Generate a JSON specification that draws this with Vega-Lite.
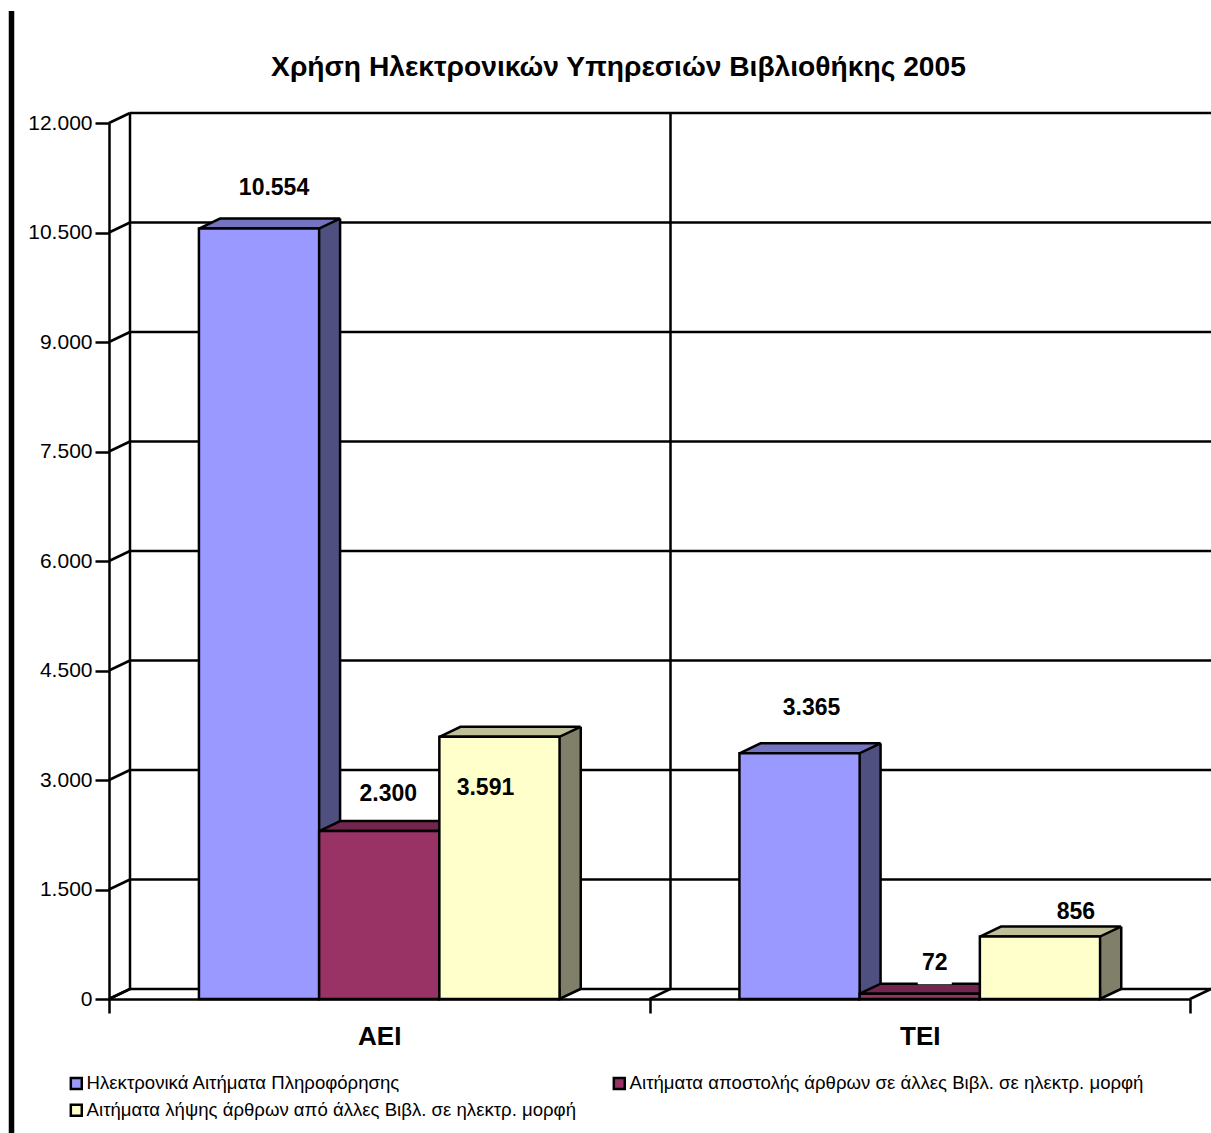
{
"$schema":"https://vega.github.io/schema/vega-lite/v6.json",
"width":1081,"height":876,
"autosize":{"type":"none"},
"padding":{"left":109,"top":123,"right":21,"bottom":134},
"background":"white",
"title":{"text":"Χρήση Ηλεκτρονικών Υπηρεσιών Βιβλιοθήκης 2005","font":"Liberation Sans","fontSize":28.2,"fontWeight":"bold","color":"black","anchor":"middle","dx":-31,"dy":96,"baseline":"middle","offset":0},
"config":{"view":{"stroke":null}},
"datasets":{
"bars":[
{"cat":"ΑΕΙ","series":"Ηλεκτρονικά Αιτήματα Πληροφόρησης","value":10554},
{"cat":"ΑΕΙ","series":"Αιτήματα αποστολής άρθρων σε άλλες Βιβλ. σε ηλεκτρ. μορφή","value":2300},
{"cat":"ΑΕΙ","series":"Αιτήματα λήψης άρθρων από άλλες Βιβλ. σε ηλεκτρ. μορφή","value":3591},
{"cat":"ΤΕΙ","series":"Ηλεκτρονικά Αιτήματα Πληροφόρησης","value":3365},
{"cat":"ΤΕΙ","series":"Αιτήματα αποστολής άρθρων σε άλλες Βιβλ. σε ηλεκτρ. μορφή","value":72},
{"cat":"ΤΕΙ","series":"Αιτήματα λήψης άρθρων από άλλες Βιβλ. σε ηλεκτρ. μορφή","value":856}
],
"ticks":[{"t":0},{"t":1500},{"t":3000},{"t":4500},{"t":6000},{"t":7500},{"t":9000},{"t":10500},{"t":12000}],
"base":[{"t":0}]
},
"data":{"name":"bars"},
"transform":[{"calculate":"replace(format(datum.value,','),',','.')","as":"label"}],
"encoding":{
"x":{"field":"cat","type":"nominal","title":null,"scale":{"domain":["ΑΕΙ","ΤΕΙ"],"paddingInner":0,"paddingOuter":0},
"axis":{"labelAngle":0,"tickBand":"extent","tickSize":14,"tickWidth":2.5,"tickColor":"black","domainColor":"black","domainWidth":2.5,"labelFont":"Liberation Sans","labelFontSize":26,"labelFontWeight":"bold","labelColor":"black","labelPadding":10,"grid":false}},
"xOffset":{"field":"series","scale":{"domain":["Ηλεκτρονικά Αιτήματα Πληροφόρησης","Αιτήματα αποστολής άρθρων σε άλλες Βιβλ. σε ηλεκτρ. μορφή","Αιτήματα λήψης άρθρων από άλλες Βιβλ. σε ηλεκτρ. μορφή"],"paddingInner":0,"paddingOuter":0.748}},
"y":{"field":"value","type":"quantitative","title":null,"scale":{"domain":[0,12000],"nice":false},
"axis":{"values":[0,1500,3000,4500,6000,7500,9000,10500,12000],"labelExpr":"replace(format(datum.value,','),',','.')","tickSize":14,"tickWidth":2.5,"tickColor":"black","domainColor":"black","domainWidth":2.5,"labelFont":"Liberation Sans","labelFontSize":21,"labelColor":"black","labelPadding":3,"grid":false}}
},
"resolve":{"scale":{"fill":"independent"}},
"layer":[
{"data":{"name":"ticks"},"mark":{"type":"rule","stroke":"black","strokeWidth":2.5,"xOffset":21,"x2Offset":21,"yOffset":-10},"encoding":{"x":{"value":0},"x2":{"value":1081},"xOffset":null,"y":{"field":"t","type":"quantitative"}}},
{"data":{"name":"ticks"},"mark":{"type":"point","shape":"M0 0L21 -10","size":4,"filled":false,"stroke":"black","strokeWidth":2.5,"opacity":1},"encoding":{"x":{"datum":"ΑΕΙ","bandPosition":0},"xOffset":null,"y":{"field":"t","type":"quantitative"}}},
{"data":{"name":"base"},"mark":{"type":"point","shape":"M0 0L21 -10L21 -886","size":4,"filled":false,"stroke":"black","strokeWidth":2.5,"opacity":1},"encoding":{"x":{"datum":"ΑΕΙ","bandPosition":0},"xOffset":null,"y":{"field":"t","type":"quantitative"}}},
{"data":{"name":"base"},"mark":{"type":"point","shape":"M0 0L21 -10L21 -886","size":4,"filled":false,"stroke":"black","strokeWidth":2.5,"opacity":1},"encoding":{"x":{"datum":"ΤΕΙ","bandPosition":0},"xOffset":null,"y":{"field":"t","type":"quantitative"}}},
{"data":{"name":"base"},"mark":{"type":"point","shape":"M0 0L21 -10","size":4,"filled":false,"stroke":"black","strokeWidth":2.5,"opacity":1},"encoding":{"x":{"datum":"ΤΕΙ","bandPosition":1},"xOffset":null,"y":{"field":"t","type":"quantitative"}}},
{"data":{"name":"base"},"mark":{"type":"point","shape":"M-97.5 -988L-97.5 134","size":4,"filled":false,"stroke":"black","strokeWidth":5.5,"opacity":1},"encoding":{"x":{"datum":"ΑΕΙ","bandPosition":0},"xOffset":null,"y":{"field":"t","type":"quantitative"}}},
{"transform":[{"filter":"datum.series==='Ηλεκτρονικά Αιτήματα Πληροφόρησης'"}],"mark":{"type":"rule","stroke":"#4F4F80","strokeWidth":21,"xOffset":-49.67,"yOffset":-10,"y2Offset":-10},"encoding":{"xOffset":null,"y2":{"datum":0}}},
{"transform":[{"filter":"datum.series==='Ηλεκτρονικά Αιτήματα Πληροφόρησης'"}],"mark":{"type":"rule","stroke":"black","strokeWidth":2.5,"xOffset":-39.17,"yOffset":-10,"y2Offset":-10},"encoding":{"xOffset":null,"y2":{"datum":0}}},
{"transform":[{"filter":"datum.series==='Αιτήματα αποστολής άρθρων σε άλλες Βιβλ. σε ηλεκτρ. μορφή'"}],"mark":{"type":"rule","stroke":"#4D1A33","strokeWidth":21,"xOffset":70.67,"yOffset":-10,"y2Offset":-10},"encoding":{"xOffset":null,"y2":{"datum":0}}},
{"transform":[{"filter":"datum.series==='Αιτήματα αποστολής άρθρων σε άλλες Βιβλ. σε ηλεκτρ. μορφή'"}],"mark":{"type":"rule","stroke":"black","strokeWidth":2.5,"xOffset":81.17,"yOffset":-10,"y2Offset":-10},"encoding":{"xOffset":null,"y2":{"datum":0}}},
{"transform":[{"filter":"datum.series==='Αιτήματα λήψης άρθρων από άλλες Βιβλ. σε ηλεκτρ. μορφή'"}],"mark":{"type":"rule","stroke":"#80806A","strokeWidth":21,"xOffset":191,"yOffset":-10,"y2Offset":-10},"encoding":{"xOffset":null,"y2":{"datum":0}}},
{"transform":[{"filter":"datum.series==='Αιτήματα λήψης άρθρων από άλλες Βιβλ. σε ηλεκτρ. μορφή'"}],"mark":{"type":"rule","stroke":"black","strokeWidth":2.5,"xOffset":201.5,"yOffset":-10,"y2Offset":-10},"encoding":{"xOffset":null,"y2":{"datum":0}}},
{"mark":{"type":"point","shape":"M81 -10L60 0L60 -10","size":4,"filled":true,"stroke":"black","strokeWidth":2.5,"opacity":1},"encoding":{"fill":{"field":"series","legend":null,"scale":{"domain":["Ηλεκτρονικά Αιτήματα Πληροφόρησης","Αιτήματα αποστολής άρθρων σε άλλες Βιβλ. σε ηλεκτρ. μορφή","Αιτήματα λήψης άρθρων από άλλες Βιβλ. σε ηλεκτρ. μορφή"],"range":["#4F4F80","#4D1A33","#80806A"]}},"y":{"datum":0}}},
{"mark":{"type":"point","shape":"M-60 0L-39 -10L81 -10L60 0Z","size":4,"filled":true,"stroke":"black","strokeWidth":2.5,"opacity":1},"encoding":{"fill":{"field":"series","legend":null,"scale":{"domain":["Ηλεκτρονικά Αιτήματα Πληροφόρησης","Αιτήματα αποστολής άρθρων σε άλλες Βιβλ. σε ηλεκτρ. μορφή","Αιτήματα λήψης άρθρων από άλλες Βιβλ. σε ηλεκτρ. μορφή"],"range":["#7373BF","#73264D","#BFBF99"]}}}},
{"mark":{"type":"bar","stroke":"black","strokeWidth":2.5,"opacity":1},"encoding":{"y2":{"datum":0},"fill":{"field":"series","title":null,"scale":{"domain":["Ηλεκτρονικά Αιτήματα Πληροφόρησης","Αιτήματα λήψης άρθρων από άλλες Βιβλ. σε ηλεκτρ. μορφή","Αιτήματα αποστολής άρθρων σε άλλες Βιβλ. σε ηλεκτρ. μορφή"],"range":["#9999FF","#FFFFCC","#993366"]},
"legend":{"orient":"none","legendX":-42,"legendY":951,"columns":2,"columnPadding":31,"rowPadding":5,"symbolType":"square","symbolSize":120,"symbolStrokeColor":"black","symbolStrokeWidth":2.5,"labelFont":"Liberation Sans","labelFontSize":18.6,"labelColor":"black","labelLimit":700,"labelOffset":1,"symbolOpacity":1}}}},
{"transform":[{"filter":"datum.value===72"}],"mark":{"type":"point","shape":"M-2 -36H32V-9.4H-2Z","size":4,"filled":true,"fill":"white","stroke":null,"opacity":1}},
{"transform":[{"filter":"datum.value===10554"}],"mark":{"type":"text","font":"Liberation Sans","fontSize":23,"fontWeight":"bold","fill":"black","dx":15,"dy":-41},"encoding":{"text":{"field":"label"}}},
{"transform":[{"filter":"datum.value===2300"}],"mark":{"type":"text","font":"Liberation Sans","fontSize":23,"fontWeight":"bold","fill":"black","dx":9,"dy":-37},"encoding":{"text":{"field":"label"}}},
{"transform":[{"filter":"datum.value===3591"}],"mark":{"type":"text","font":"Liberation Sans","fontSize":23,"fontWeight":"bold","fill":"black","dx":-14,"dy":51},"encoding":{"text":{"field":"label"}}},
{"transform":[{"filter":"datum.value===3365"}],"mark":{"type":"text","font":"Liberation Sans","fontSize":23,"fontWeight":"bold","fill":"black","dx":12,"dy":-45},"encoding":{"text":{"field":"label"}}},
{"transform":[{"filter":"datum.value===72"}],"mark":{"type":"text","font":"Liberation Sans","fontSize":23,"fontWeight":"bold","fill":"black","dx":15,"dy":-31},"encoding":{"text":{"field":"label"}}},
{"transform":[{"filter":"datum.value===856"}],"mark":{"type":"text","font":"Liberation Sans","fontSize":23,"fontWeight":"bold","fill":"black","dx":36,"dy":-25},"encoding":{"text":{"field":"label"}}}
]
}
